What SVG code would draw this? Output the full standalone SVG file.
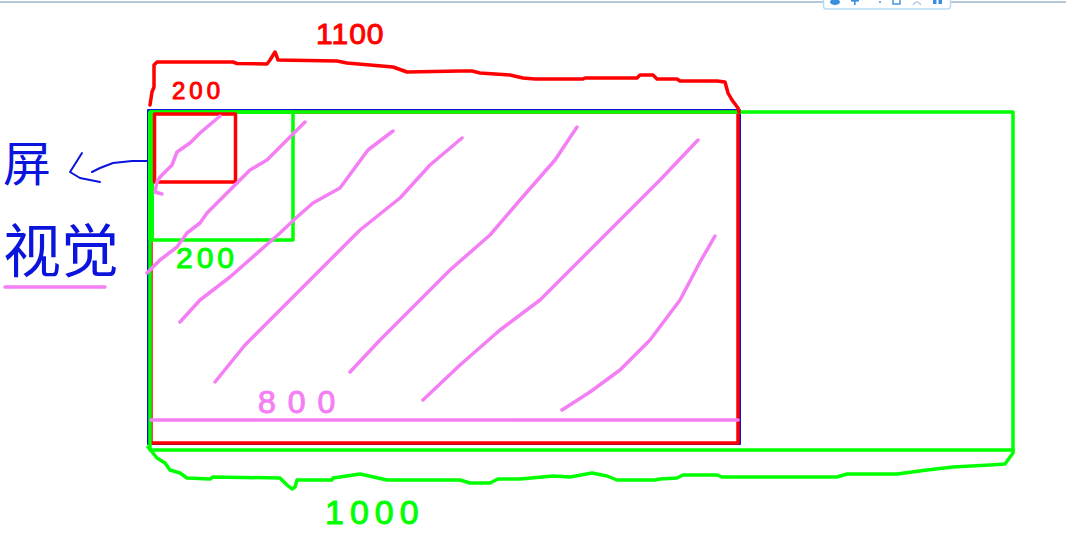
<svg xmlns="http://www.w3.org/2000/svg" width="1066" height="546" viewBox="0 0 1066 546">
<style>
.red{fill:none;stroke:#ff0000;stroke-width:3.5;stroke-linejoin:round;stroke-linecap:round}
.grn{fill:none;stroke:#00ff00;stroke-width:3.5;stroke-linejoin:round;stroke-linecap:round}
.blu{fill:none;stroke:#0a14dc;stroke-width:2;stroke-linejoin:round;stroke-linecap:round}
.pnk{fill:none;stroke:#f47ff4;stroke-width:3.5;stroke-linejoin:round;stroke-linecap:round}
.num{font-family:"Liberation Sans","DejaVu Sans",sans-serif;stroke-width:1;stroke-linejoin:round}
.cjk{font-family:"Noto Sans CJK SC","Noto Sans CJK JP",sans-serif;fill:#0a14dc}
</style>
<rect width="1066" height="546" fill="#ffffff"/>
<g id="toolbar">
<line x1="0" y1="2" x2="1066" y2="2" stroke="#9fb4cf" stroke-width="1.5"/>
<rect x="823.5" y="-4" width="127" height="13" rx="3" fill="#ffffff" stroke="#b9dcf5" stroke-width="1.5"/>
<g fill="#3b8fe0">
<ellipse cx="835" cy="2" rx="5" ry="3"/>
<rect x="851" y="0" width="8" height="1.6"/>
<rect x="854" y="0" width="1.6" height="5"/>
<path d="M879,1 l2,0 l-1,3 z"/>
<rect x="893" y="-2" width="7" height="6" fill="none" stroke="#3b8fe0" stroke-width="1.4"/>
<path d="M913,5 q4,-6 8,0" fill="none" stroke="#b7cde6" stroke-width="1.4"/>
<rect x="933" y="0" width="3.5" height="4"/>
<rect x="938.5" y="0" width="3.5" height="4"/>
</g>
</g>
<g id="screen-area">
<rect x="148" y="110" width="592" height="334" class="blu"/>
<rect x="151" y="112" width="587" height="331" class="red"/>
</g>
<g id="big-area">
<rect x="150" y="112" width="863" height="338" class="grn"/>
</g>
<g id="view-box">
<rect x="151" y="112" width="142" height="128" class="grn"/>
<line x1="151" y1="112" x2="151" y2="240" stroke="#00ff00" stroke-width="6"/>
</g>
<g id="small-box">
<rect x="154.5" y="114" width="81" height="68" class="red"/>
</g>
<g id="hatching">
<path class="pnk" d="M220,116 L200,133 L190,143 L177,152 L172,165 L160,177 L157,182 L155,192 L162,194"/>
<path class="pnk" d="M305,122 L280,147 L267,160 L250,170 L237,183 L220,200 L207,213 L200,223 L187,233 L177,247 L160,260 L147,273"/>
<path class="pnk" d="M393,131 L368,150 L340,188 L313,203 L297,217 L280,233 L230,277 L200,300 L180,322"/>
<path class="pnk" d="M462,138 L430,165 L400,198 L360,230 L320,270 L280,310 L245,345 L215,382"/>
<path class="pnk" d="M577,127 L555,160 L520,200 L490,235 L450,270 L410,310 L380,340 L350,372"/>
<path class="pnk" d="M698,140 L660,180 L620,220 L580,260 L540,300 L500,330 L460,365 L423,400"/>
<path class="pnk" d="M715,236 L700,262 L680,300 L650,340 L620,370 L590,392 L562,410"/>
<line class="pnk" x1="151" y1="420" x2="738" y2="420"/>
</g>
<g id="connectors">
<path class="red" d="M150,105 L152,92 L154,87 L154,65 L157,62 L233,62 L237,63.5 L267,64 L270,60 L275,52 L277,57 L278,60 L337,61 L347,63 L393,67 L407,72 L460,71 L472,71 L480,73 L510,75 L523,78 L535,79 L583,79 L585,78 L637,78 L640,75 L653,75 L657,79 L677,79 L680,81 L717,81 L725,82 L728,93 L732,100 L738,108 L739,112"/>
<path class="grn" d="M148,447 L157,458 L165,463 L170,470 L180,473 L187,478 L210,479 L213,477 L280,478 L287,485 L292,489 L295,487 L297,480 L332,480 L333,478 L360,474 L387,480 L460,480 L470,483 L490,483 L498,479 L520,479 L553,476 L570,477 L592,473 L607,476 L617,480 L655,480 L660,479 L677,478 L683,475 L717,475 L722,477 L837,477 L847,474 L897,474 L927,470 L953,467 L990,465 L1005,464 L1013,453 L1013,450"/>
<path class="blu" stroke-width="3.5" d="M147,161 L132,161 L113,163 L100,168 L92,172"/>
<path class="blu" stroke-width="3.5" d="M82,153 L70,172 L80,178 L100,182"/>
<line class="pnk" x1="5" y1="287" x2="105" y2="287"/>
</g>
<g id="labels">
<text class="num" x="316" y="44" font-size="30" fill="#ff0000" stroke="#ff0000" letter-spacing="1">1100</text>
<text class="num" x="172" y="99" font-size="24" fill="#ff0000" stroke="#ff0000" letter-spacing="4">200</text>
<text class="num" x="176" y="268" font-size="30" fill="#00ff00" stroke="#00ff00" letter-spacing="4">200</text>
<text class="num" x="258" y="413" font-size="32" fill="#f47ff4" stroke="#f47ff4" letter-spacing="12">800</text>
<text class="num" x="325" y="524" font-size="34" fill="#00ff00" stroke="#00ff00" letter-spacing="6">1000</text>
<text class="cjk" x="3" y="181" font-size="48">屏</text>
<text class="cjk" x="3" y="272" font-size="58">视觉</text>
</g>
</svg>
